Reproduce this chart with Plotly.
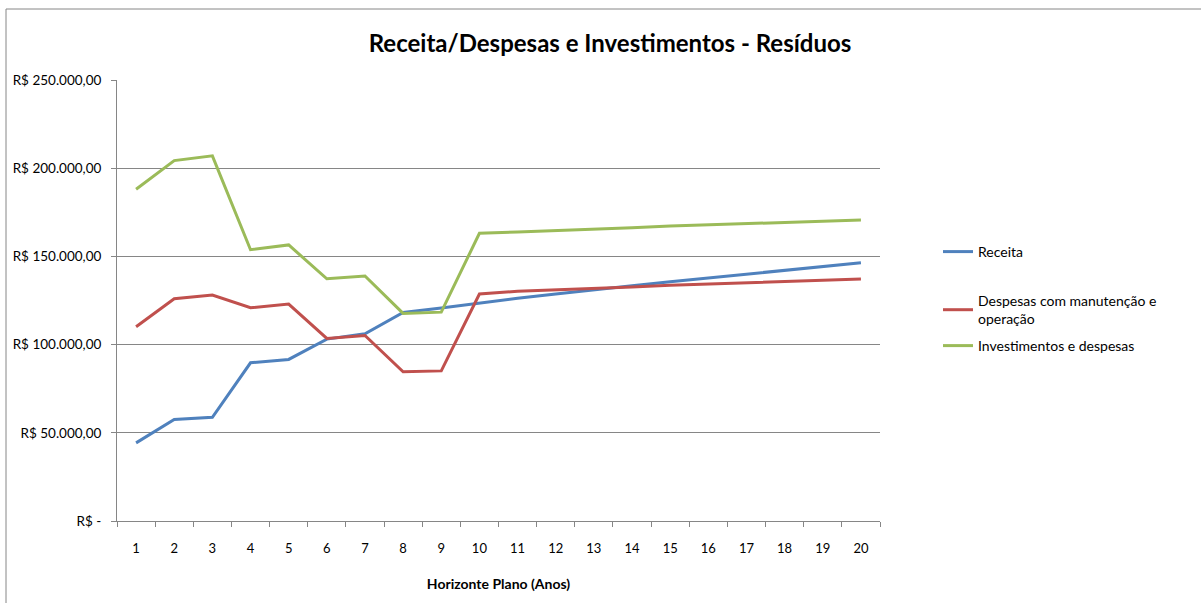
import plotly.graph_objects as go

anos = [str(i) for i in range(1, 21)]
receita = [44300, 57500, 58800, 89700, 91600, 103100, 106100, 118200, 120700, 123600,
           126300, 128700, 131200, 133300, 135600, 137700, 139900, 142100, 144200, 146400]
despesas = [110100, 126000, 128100, 120900, 123000, 103500, 105200, 84600, 85100, 128700,
            130200, 130900, 131600, 132600, 133600, 134300, 135000, 135700, 136400, 137200]
investimentos = [188100, 204300, 207000, 153800, 156500, 137300, 138900, 117700, 118400, 163100,
                 163800, 164500, 165500, 166300, 167200, 167900, 168600, 169300, 170000, 170600]
y_ticks = [0, 50000, 100000, 150000, 200000, 250000]
y_labels = ["R$ -", "R$ 50.000,00", "R$ 100.000,00", "R$ 150.000,00", "R$ 200.000,00", "R$ 250.000,00"]

FONT = "Lato"
W, H = 1201, 603
L, R, T, B = 117, 880, 80, 521

def px(xp):
    return (xp - L) / (R - L)

def py(yp):
    return (B - yp) / (B - T)

fig = go.Figure()
fig.add_trace(go.Scatter(x=anos, y=receita, mode="lines", name="Receita",
                         line=dict(color="#4F81BD", width=3), legend="legend"))
fig.add_trace(go.Scatter(x=anos, y=despesas, mode="lines",
                         name="Despesas com manutenção e<br>operação",
                         line=dict(color="#C0504D", width=3), legend="legend2"))
fig.add_trace(go.Scatter(x=anos, y=investimentos, mode="lines", name="Investimentos e despesas",
                         line=dict(color="#9BBB59", width=3), legend="legend3"))

leg_common = dict(font=dict(family=FONT, size=14, color="#000000"), bgcolor="rgba(0,0,0,0)",
                  xanchor="left", yanchor="middle", itemwidth=30)

fig.update_layout(
    width=W, height=H,
    margin=dict(l=L, r=W - R, t=T, b=H - B, autoexpand=False),
    paper_bgcolor="white", plot_bgcolor="white",
    font=dict(family=FONT, size=13, color="#000000"),
    title=dict(text="<b>Receita/Despesas e Investimentos - Resíduos</b>",
               font=dict(family=FONT, size=24, color="#000000"),
               x=(610) / W, xanchor="center", y=1 - 44 / H, yanchor="middle"),
    showlegend=True,
    legend=dict(x=px(938), y=py(252), **leg_common),
    legend2=dict(x=px(938), y=py(310), **leg_common),
    legend3=dict(x=px(938), y=py(346), **leg_common),
    xaxis=dict(type="category", range=[-0.5, 19.5], showgrid=False, showline=True,
               linecolor="#868686", linewidth=1,
               ticks="outside", tickson="boundaries", ticklen=5, tickcolor="#868686",
               tickfont=dict(family=FONT, size=13), ticklabelstandoff=15,
               title=dict(text="<b>Horizonte Plano (Anos)</b>", font=dict(family=FONT, size=14),
                          standoff=24)),
    yaxis=dict(range=[0, 250000], tickvals=y_ticks, ticktext=y_labels, showgrid=True,
               gridcolor="#868686", gridwidth=1, showline=True, linecolor="#868686", linewidth=1,
               ticks="outside", ticklen=5, tickcolor="#868686", zeroline=False,
               tickfont=dict(family=FONT, size=13.5), ticklabelstandoff=7),
    shapes=[dict(type="rect", xref="paper", yref="paper",
                 x0=px(6), x1=px(1215), y0=py(620), y1=py(9),
                 line=dict(color="#868686", width=1), fillcolor="rgba(0,0,0,0)", layer="below")],
)

fig.write_html("out.html", config={"displayModeBar": False},
               post_script="document.body.style.margin='0';document.body.style.overflow='hidden';")
